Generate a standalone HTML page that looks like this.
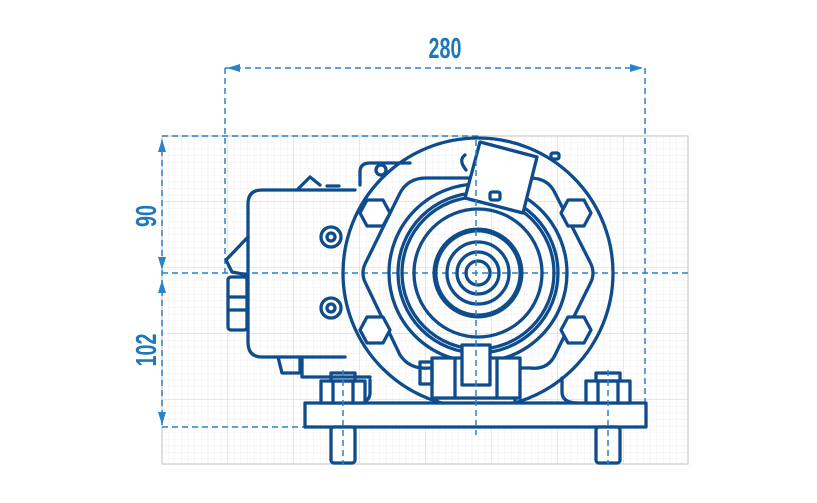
<!DOCTYPE html>
<html><head><meta charset="utf-8"><style>
html,body{margin:0;padding:0;background:#fff;width:817px;height:503px;overflow:hidden}
svg{display:block}
.d{fill:none;stroke:#0f4c8c;stroke-width:3.3;stroke-linejoin:round;stroke-linecap:round}
.dim{fill:none;stroke:#2a82c8;stroke-width:1.5;stroke-dasharray:6 4}
.t{font-family:"Liberation Sans",sans-serif;font-weight:bold;font-size:29px;fill:#1f78be}
</style></head><body>
<svg width="817" height="503" viewBox="0 0 817 503" xmlns="http://www.w3.org/2000/svg">
<defs>
<pattern id="minor" x="162" y="136" width="6.6" height="6.6" patternUnits="userSpaceOnUse"><path d="M6.6 0V6.6H0" fill="none" stroke="#ececec" stroke-width="0.8"/></pattern>
<pattern id="major" x="162" y="136" width="66" height="66" patternUnits="userSpaceOnUse"><path d="M66 0V66H0" fill="none" stroke="#d6d6d6" stroke-width="1.2"/></pattern>
</defs>
<rect x="162" y="136" width="526" height="328" fill="url(#minor)"/>
<rect x="162" y="136" width="526" height="328" fill="url(#major)"/>
<rect x="162" y="136" width="526" height="328" fill="none" stroke="#d6d6d6" stroke-width="1.5"/>

<line class="dim" x1="225" y1="68" x2="645" y2="68"/>
<polygon points="227,68 240,64 240,72" fill="#2a82c8"/>
<polygon points="643,68 630,64 630,72" fill="#2a82c8"/>
<line class="dim" x1="225" y1="68" x2="225" y2="273"/>
<line class="dim" x1="645" y1="68" x2="645" y2="403"/>
<line class="dim" x1="162" y1="136" x2="480" y2="136"/>
<line class="dim" x1="162" y1="273" x2="688" y2="273"/>
<line class="dim" x1="162" y1="427" x2="305" y2="427"/>
<line class="dim" x1="162" y1="140" x2="162" y2="425"/>
<polygon points="162,139 158,152 166,152" fill="#2a82c8"/>
<polygon points="162,270 158,257 166,257" fill="#2a82c8"/>
<polygon points="162,280 158,293 166,293" fill="#2a82c8"/>
<polygon points="162,425 158,412 166,412" fill="#2a82c8"/>
<text class="t" transform="translate(445,58) scale(0.68,1)" text-anchor="middle">280</text>
<text class="t" transform="translate(156,216) rotate(-90) scale(0.68,1)" text-anchor="middle">90</text>
<text class="t" transform="translate(156,350) rotate(-90) scale(0.68,1)" text-anchor="middle">102</text>

<g class="d">
<path d="M262 190 H355 M248 204 Q248 190 262 190 M248 204 V342 Q248 357 262 357 H345"/>
<path d="M298 189 L310 177 L320 185"/>
<path d="M327 186 h12"/>
<path d="M248 237 L226 260 L232 272 L248 275"/>
<rect x="228" y="277" width="19" height="53" rx="3"/>
<line x1="228" y1="297" x2="247" y2="297"/>
<line x1="228" y1="310" x2="247" y2="310"/>
<circle cx="331" cy="237" r="10"/><circle cx="331" cy="237" r="4"/>
<circle cx="331" cy="308" r="10"/><circle cx="331" cy="308" r="4"/>
<path d="M278 357 L282 373 H300 V357"/>
<path d="M302 357 V377 H370"/>
<path d="M360 185 V172 Q360 163 370 163 H410"/>
<circle cx="381" cy="170" r="5"/>
<circle cx="478" cy="273" r="135"/>
<path d="M366 262 Q360 273 366 284 L400 355 Q410 370 430 368 L530 368 Q548 370 555 355 L590 284 Q596 273 590 262 L555 193 Q548 178 530 178 L426 178 Q408 178 400 193 Z"/>
<circle cx="478" cy="273" r="89"/>
<circle cx="478" cy="273" r="80"/>
<circle cx="478" cy="273" r="76"/>
<circle cx="478" cy="273" r="64"/>
<circle cx="478" cy="273" r="43" stroke-width="5"/>
<circle cx="478" cy="273" r="31"/>
<circle cx="478" cy="273" r="21"/>
<circle cx="478" cy="273" r="12"/>
<polygon points="360,213 367,200 383,200 390,213 383,226 367,226" fill="#fff"/>
<polygon points="561,213 568,200 584,200 591,213 584,226 568,226" fill="#fff"/>
<polygon points="360,330 367,317 383,317 390,330 383,343 367,343" fill="#fff"/>
<polygon points="561,330 568,317 584,317 591,330 584,343 568,343" fill="#fff"/>
<polygon points="480,142 537,157 523,213 465,198" fill="#fff"/>
<path d="M465 155 Q458 160 466 170"/>
<rect x="490" y="192" width="10" height="8" rx="2"/>
<rect x="551" y="153" width="8" height="6" rx="2"/>
<rect x="432" y="358" width="88" height="40" fill="#fff"/>
<rect x="462" y="345" width="28" height="40" fill="#fff"/>
<line x1="455" y1="358" x2="455" y2="398"/>
<line x1="497" y1="358" x2="497" y2="398"/>
<rect x="420" y="362" width="12" height="22"/>
<path d="M437 398 V406 H515 V398"/>
<rect x="305" y="403" width="341" height="24" fill="#fff"/>
<path d="M355 403 Q370 403 370 393 V380"/>
<path d="M578 403 Q562 403 562 392 V378"/>
<rect x="331" y="427" width="24" height="36" rx="3" fill="#fff"/>
<rect x="321" y="381" width="44" height="22" fill="#fff"/>
<rect x="331" y="373" width="24" height="8"/>
<line x1="333" y1="381" x2="333" y2="403"/><line x1="353" y1="381" x2="353" y2="403"/>
<rect x="596" y="427" width="24" height="36" rx="3" fill="#fff"/>
<rect x="586" y="381" width="44" height="22" fill="#fff"/>
<rect x="596" y="373" width="24" height="8"/>
<line x1="598" y1="381" x2="598" y2="403"/><line x1="618" y1="381" x2="618" y2="403"/>
</g>
<g class="dim">
<line x1="476" y1="140" x2="476" y2="435"/>
<line x1="343" y1="370" x2="343" y2="465"/>
<line x1="608" y1="370" x2="608" y2="465"/>
</g>
</svg>
</body></html>
